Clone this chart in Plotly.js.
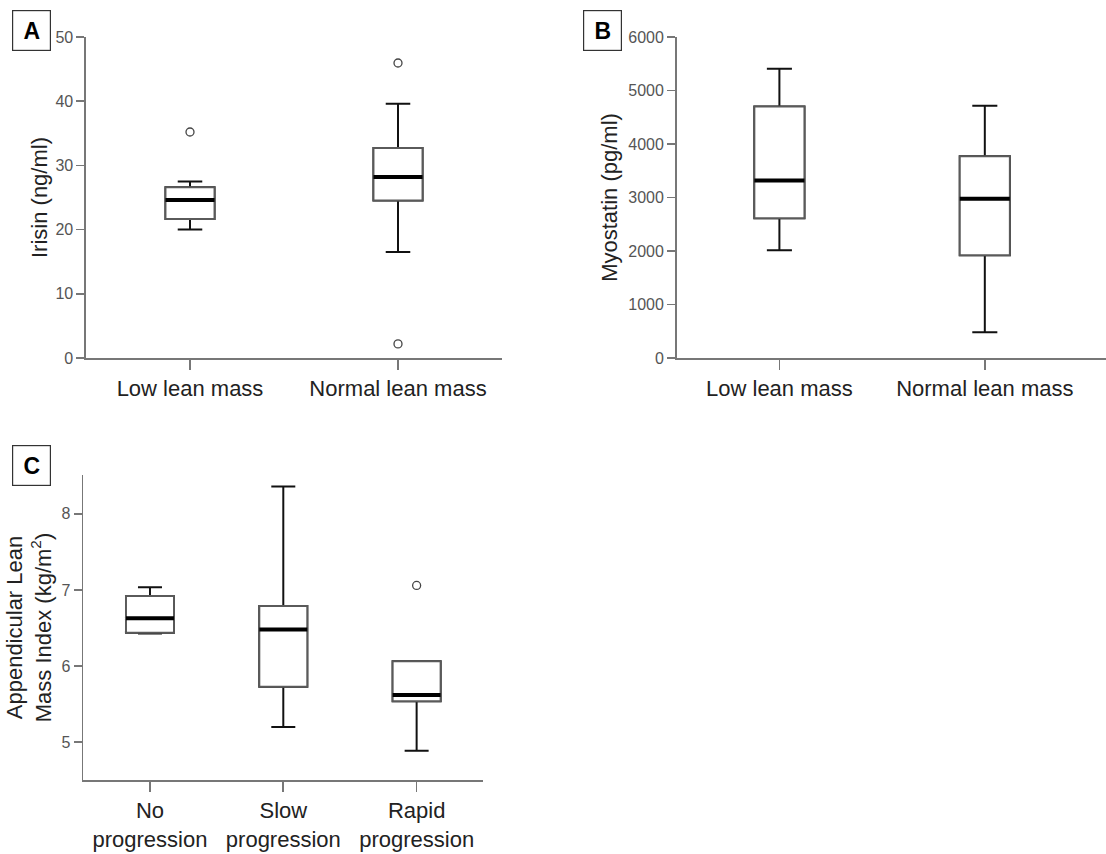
<!DOCTYPE html>
<html>
<head>
<meta charset="utf-8">
<script src="https://cdn.plot.ly/plotly-3.0.1.min.js"></script>
<style>html,body{margin:0;padding:0;background:#fff;}#chart{width:1106px;height:854px;}</style>
</head>
<body>
<div id="chart"></div>
<script>
// ---- Panel A: Irisin ----
const leanCats = ['Low lean mass', 'Normal lean mass'];
const irisinQ1 = [21.65, 24.55];
const irisinMedian = [24.6, 28.2];
const irisinQ3 = [26.6, 32.7];
const irisinLow = [20.0, 16.5];
const irisinHigh = [27.5, 39.6];
const irisinOutX = ['Low lean mass', 'Normal lean mass', 'Normal lean mass'];
const irisinOutY = [35.2, 45.95, 2.2];

// ---- Panel B: Myostatin ----
const myoQ1 = [2610, 1920];
const myoMedian = [3320, 2975];
const myoQ3 = [4700, 3770];
const myoLow = [2015, 480];
const myoHigh = [5405, 4715];

// ---- Panel C: ALMI ----
const progCats = ['No progression', 'Slow progression', 'Rapid progression'];
const progTickText = ['No<br>progression', 'Slow<br>progression', 'Rapid<br>progression'];
const almiQ1 = [6.44, 5.73, 5.54];
const almiMedian = [6.63, 6.48, 5.62];
const almiQ3 = [6.92, 6.79, 6.065];
const almiLow = [6.43, 5.20, 4.89];
const almiHigh = [7.035, 8.36, 6.065];
const almiOutX = ['Rapid progression'];
const almiOutY = [7.06];

const FONT = 'Liberation Sans, Arial, sans-serif';

// whiskers (black), drawn first
function whiskerTrace(x, q1, med, q3, lo, hi, xa, ya, w) {
  return {type: 'box', x: x, q1: q1, median: med, q3: q3, lowerfence: lo, upperfence: hi,
    xaxis: xa, yaxis: ya, width: w, whiskerwidth: 0.5, boxpoints: false,
    fillcolor: '#ffffff', line: {color: '#111', width: 2}, showlegend: false, hoverinfo: 'skip'};
}
// box outline (grey), drawn over the whisker trace's box
function outlineTrace(x, q1, med, q3, xa, ya, w) {
  return {type: 'box', x: x, q1: q1, median: med, q3: q3, lowerfence: q1, upperfence: q3,
    xaxis: xa, yaxis: ya, width: w, whiskerwidth: 0, boxpoints: false,
    fillcolor: '#ffffff', line: {color: '#5a5a5a', width: 2}, showlegend: false, hoverinfo: 'skip'};
}
function medTrace(x, med, xa, ya, w) {
  return {type: 'box', x: x, q1: med, median: med, q3: med, lowerfence: med, upperfence: med,
    xaxis: xa, yaxis: ya, width: w, whiskerwidth: 0, boxpoints: false,
    fillcolor: 'rgba(0,0,0,0)', line: {color: '#000', width: 4}, showlegend: false, hoverinfo: 'skip'};
}
function outTrace(x, y, xa, ya) {
  return {type: 'scatter', mode: 'markers', x: x, y: y, xaxis: xa, yaxis: ya,
    marker: {symbol: 'circle-open', size: 8, color: '#444', line: {width: 1.3, color: '#444'}},
    showlegend: false, hoverinfo: 'skip', cliponaxis: false};
}

const data = [
  whiskerTrace(leanCats, irisinQ1, irisinMedian, irisinQ3, irisinLow, irisinHigh, 'x', 'y', 0.236),
  outlineTrace(leanCats, irisinQ1, irisinMedian, irisinQ3, 'x', 'y', 0.236),
  medTrace(leanCats, irisinMedian, 'x', 'y', 0.236),
  outTrace(irisinOutX, irisinOutY, 'x', 'y'),
  whiskerTrace(leanCats, myoQ1, myoMedian, myoQ3, myoLow, myoHigh, 'x2', 'y2', 0.244),
  outlineTrace(leanCats, myoQ1, myoMedian, myoQ3, 'x2', 'y2', 0.244),
  medTrace(leanCats, myoMedian, 'x2', 'y2', 0.244),
  whiskerTrace(progCats, almiQ1, almiMedian, almiQ3, almiLow, almiHigh, 'x3', 'y3', 0.36),
  outlineTrace(progCats, almiQ1, almiMedian, almiQ3, 'x3', 'y3', 0.36),
  medTrace(progCats, almiMedian, 'x3', 'y3', 0.36),
  outTrace(almiOutX, almiOutY, 'x3', 'y3')
];

const W = 1106, H = 854;
function xd(a, b) { return [a / W, b / W]; }
function yd(top, bottom) { return [1 - bottom / H, 1 - top / H]; }

const xBase = {type: 'category', showline: true, linecolor: '#777', linewidth: 1.6,
  ticks: 'outside', ticklen: 10, tickwidth: 1.6, tickcolor: '#777', showgrid: false, zeroline: false,
  tickfont: {family: FONT, size: 22, color: '#222'}, fixedrange: true};
const yBase = {showline: true, linecolor: '#777', linewidth: 1.6,
  ticks: 'outside', ticklen: 8, tickwidth: 1.6, tickcolor: '#777', showgrid: false, zeroline: false,
  tickfont: {family: FONT, size: 16, color: '#555'}, fixedrange: true};

function letter(txt, cx, cy) {
  return {text: '<b>' + txt + '</b>', xref: 'paper', yref: 'paper', x: cx / W, y: 1 - cy / H,
    xanchor: 'center', yanchor: 'middle', showarrow: false, width: 37, height: 39, borderpad: 0,
    bordercolor: '#333', borderwidth: 1.2, bgcolor: '#fff',
    font: {family: FONT, size: 23, color: '#000'}};
}

const layout = {
  width: W, height: H, margin: {l: 0, r: 0, t: 0, b: 0},
  paper_bgcolor: '#fff', plot_bgcolor: 'rgba(0,0,0,0)', boxmode: 'overlay', showlegend: false,
  font: {family: FONT},
  xaxis: Object.assign({}, xBase, {domain: xd(86, 502), range: [-0.5, 1.5], anchor: 'y'}),
  yaxis: Object.assign({}, yBase, {domain: yd(37, 358), range: [0, 50], dtick: 10, anchor: 'x',
    title: {text: 'Irisin (ng/ml)', font: {family: FONT, size: 22, color: '#222'}, standoff: 2}}),
  xaxis2: Object.assign({}, xBase, {domain: xd(676.7, 1106), range: [-0.5, 1.59], anchor: 'y2'}),
  yaxis2: Object.assign({}, yBase, {domain: yd(37, 358), range: [0, 6000], dtick: 1000, anchor: 'x2',
    title: {text: 'Myostatin (pg/ml)', font: {family: FONT, size: 22, color: '#222'}, standoff: 4}}),
  xaxis3: Object.assign({}, xBase, {domain: xd(83.3, 483.3), range: [-0.5, 2.5], anchor: 'y3',
    tickvals: progCats, ticktext: progTickText}),
  yaxis3: Object.assign({}, yBase, {domain: yd(475, 780), range: [4.505, 8.51], tickvals: [5, 6, 7, 8], anchor: 'x3',
    title: {text: 'Appendicular Lean<br>Mass Index (kg/m<sup>2</sup>)', font: {family: FONT, size: 22, color: '#222'}, standoff: 4}}),
  annotations: [letter('A', 31.5, 30.5), letter('B', 602.7, 30.5), letter('C', 31.5, 465.5)]
};

Plotly.newPlot('chart', data, layout, {staticPlot: true, displayModeBar: false});
</script>
</body>
</html>
